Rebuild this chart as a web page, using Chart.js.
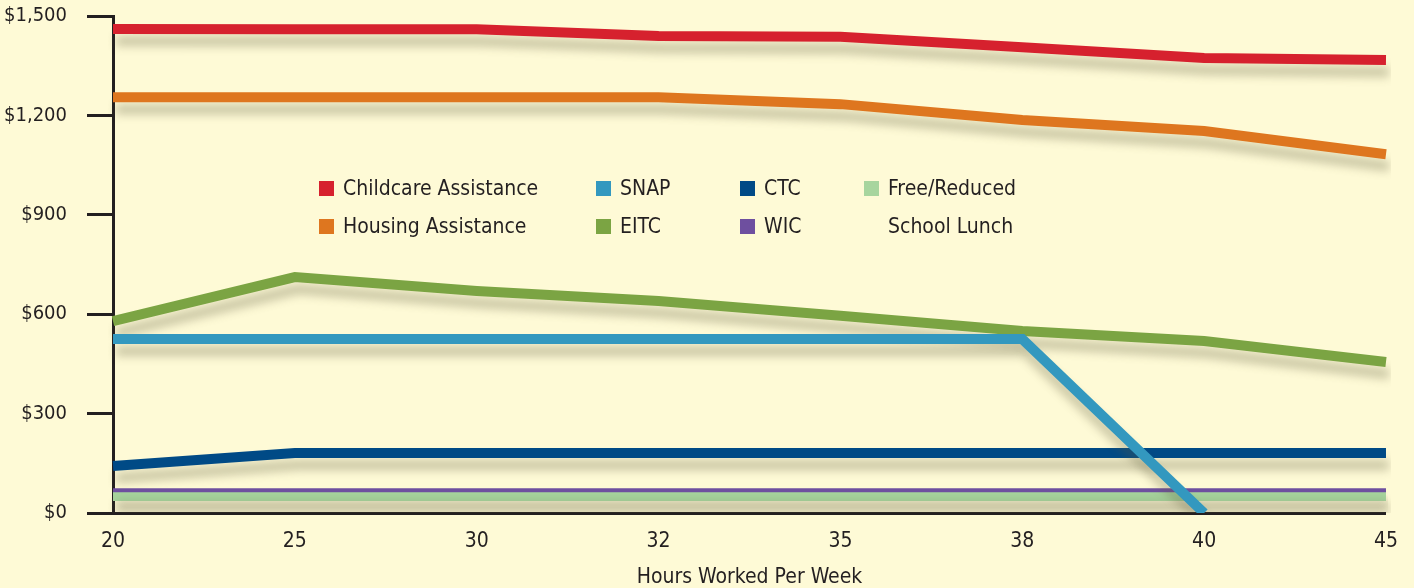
<!DOCTYPE html>
<html>
<head>
<meta charset="utf-8">
<script src="https://cdn.jsdelivr.net/npm/chart.js@4"></script>
<style>
    html, body { margin: 0; padding: 0; background: #fefad6; }
    #wrap { position: relative; width: 1414px; height: 588px; }
    #legend { position: absolute; left: 0; top: 0; font-family: 'DejaVu Sans Condensed', sans-serif; font-size: 21px; color: #231f20; }
    .item { position: absolute; white-space: nowrap; line-height: 38px; }
    .box { display: inline-block; width: 15px; height: 15px; margin-right: 9px; vertical-align: -1px; }
</style>
</head>
<body>
<div id="wrap">
    <canvas id="chart"></canvas>
    <div id="legend"></div>
</div>
<script>
// Data
const hours = ['20', '25', '30', '32', '35', '38', '40', '45'];
const childcare = [1461, 1460, 1460, 1440, 1437, 1406, 1373, 1367];
const housing = [1255, 1255, 1255, 1255, 1234, 1186, 1153, 1083];
const snap = [525, 525, 525, 525, 525, 525, 0, null];
const eitc = [579, 712, 670, 640, 595, 549, 519, 456];
const ctc = [142, 181, 181, 181, 181, 181, 181, 181];
const wic = [69, 69, 69, 69, 69, 69, 69, 69];
const lunch = [51, 51, 51, 51, 51, 51, 51, 51];
const yTicks = [0, 300, 600, 900, 1200, 1500];

const ink = '#231f20';
const font = "'DejaVu Sans Condensed', sans-serif";

const series = [
    { label: 'Childcare Assistance', data: childcare, color: '#d6212e', width: 10, order: 3 },
    { label: 'Housing Assistance', data: housing, color: '#de761f', width: 10, order: 3 },
    { label: 'SNAP', data: snap, color: '#3398bf', width: 10, order: 0 },
    { label: 'EITC', data: eitc, color: '#7ba443', width: 10, order: 3 },
    { label: 'CTC', data: ctc, color: '#004a86', width: 10, order: 2 },
    { label: 'WIC', data: wic, color: '#6e4f9f', width: 4, order: 1 },
    { label: 'Free/Reduced\nSchool Lunch', data: lunch, color: '#a7d59e', width: 10, order: 1 }
];

// Legend (4 columns, 2 rows)
const legendSpots = [[319, 169], [319, 207], [596, 169], [596, 207], [740, 169], [740, 207], [864, 169]];
const legendEl = document.getElementById('legend');
series.forEach((s, i) => {
    const div = document.createElement('div');
    div.className = 'item';
    div.style.left = legendSpots[i][0] + 'px';
    div.style.top = legendSpots[i][1] + 'px';
    const lines = s.label.split('\n');
    div.innerHTML = `<span class="box" style="background:${s.color}"></span>${lines[0]}` +
        (lines[1] ? `<br><span class="box"></span>${lines[1]}` : '');
    legendEl.appendChild(div);
});

// Soft drop shadow under every line
const shadowPlugin = {
    id: 'shadow',
    beforeDatasetDraw(chart) {
        const ctx = chart.ctx;
        ctx.save();
        ctx.shadowColor = 'rgba(95, 90, 60, 0.33)';
        ctx.shadowBlur = 10;
        ctx.shadowOffsetX = 3;
        ctx.shadowOffsetY = 12;
    },
    afterDatasetDraw(chart) {
        chart.ctx.restore();
    }
};

const ctx = document.getElementById('chart').getContext('2d');
new Chart(ctx, {
    type: 'line',
    data: {
        labels: hours,
        datasets: series.map(s => ({
            label: s.label,
            data: s.data,
            borderColor: s.color,
            backgroundColor: s.color,
            borderWidth: s.width,
            borderCapStyle: 'butt',
            borderJoinStyle: 'miter',
            pointRadius: 0,
            tension: 0,
            fill: false,
            order: s.order
        }))
    },
    options: {
        responsive: true,
        maintainAspectRatio: false,
        animation: false,
        layout: { padding: { top: 0, right: 23, left: 0, bottom: 0 } },
        plugins: {
            legend: { display: false },
            tooltip: { enabled: false }
        },
        scales: {
            x: {
                type: 'category',
                offset: false,
                grid: { display: true, drawOnChartArea: false, drawTicks: false },
                border: { display: true, color: ink, width: 3 },
                ticks: { color: ink, padding: 16, font: { family: font, size: 21 } },
                title: {
                    display: true,
                    text: 'Hours Worked Per Week',
                    color: ink,
                    padding: { top: 0, bottom: 0 },
                    font: { family: font, size: 21, lineHeight: 1.0 }
                },
                afterFit(scale) { scale.height = 75; }
            },
            y: {
                min: 0,
                max: 1500,
                afterBuildTicks(scale) { scale.ticks = yTicks.map(v => ({ value: v })); },
                grid: { display: true, drawOnChartArea: false, drawTicks: true, tickLength: 26, tickColor: ink, tickWidth: 3 },
                border: { display: true, color: ink, width: 3 },
                ticks: {
                    color: ink,
                    padding: 20,
                    font: { family: font, size: 20 },
                    callback: v => '$' + v.toLocaleString('en-US')
                },
                afterFit(scale) {
                    scale.width = 113;
                    // plot top sits 16px below the canvas edge
                    scale.paddingTop = 16;
                    scale.paddingBottom = 0;
                }
            }
        }
    },
    plugins: [shadowPlugin]
});
</script>
</body>
</html>
